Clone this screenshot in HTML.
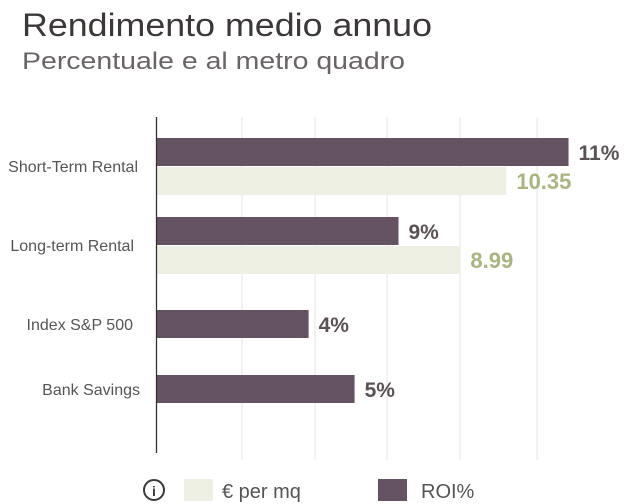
<!DOCTYPE html>
<html><head><meta charset="utf-8"><style>
html,body{margin:0;padding:0;background:#fff;}
svg{display:block;font-family:"Liberation Sans",sans-serif;}
</style></head><body>
<svg id="chart" width="625" height="504" viewBox="0 0 625 504">
<text x="22" y="36" font-size="32" fill="#3d3838" textLength="410" lengthAdjust="spacingAndGlyphs">Rendimento medio annuo</text>
<text x="22" y="69" font-size="24" fill="#6a6565" textLength="383" lengthAdjust="spacingAndGlyphs">Percentuale e al metro quadro</text>
<g id="grid"></g>
<g id="bars"></g>
<line x1="156.5" y1="117" x2="156.5" y2="453" stroke="#333" stroke-width="1.3"/>
<g>
  <g>
    <circle cx="154" cy="490" r="10" fill="none" stroke="#3d3838" stroke-width="2"/>
    <text x="154" y="496" font-size="14" font-weight="bold" text-anchor="middle" fill="#3d3838">i</text>
  </g>
  <rect x="184" y="479" width="29" height="22" fill="#eef0e3"/>
  <text x="222" y="498" font-size="20" fill="#555">€ per mq</text>
  <rect x="378" y="479" width="29" height="22" fill="#655262"/>
  <text x="421" y="498" font-size="20" fill="#555">ROI%</text>
</g>
</svg>
<script>
const categories = ["Short-Term Rental", "Long-term Rental", "Index S&P 500", "Bank Savings"];
const roiValues = [12.19, 7.16, 4.5, 5.86];
const roiLabels = ["11%", "9%", "4%", "5%"];
const euroValues = [10.35, 8.99, null, null];
const euroLabels = ["10.35", "8.99", "", ""];
const gridTicks = [2.53, 4.69, 6.82, 8.98, 11.26];

const NS = "http://www.w3.org/2000/svg";
const x0 = 156.5, pxPerUnit = 33.8;
function xScale(v){ return x0 + v * pxPerUnit; }
const roiY = [138, 217, 310, 375];
const labelRight = [138, 134, 133, 140];
const barH = 28;
function mk(tag, attrs, parent){ const e=document.createElementNS(NS,tag); for(const k in attrs) e.setAttribute(k,attrs[k]); parent.appendChild(e); return e; }
const grid = document.getElementById('grid');
const bars = document.getElementById('bars');
gridTicks.forEach((t)=>{
  const l = mk('line',{x1:xScale(t),x2:xScale(t),y1:117,y2:460,stroke:'#e6e6e6','stroke-width':1},grid);
  
  
});
categories.forEach((c,i)=>{
  const hasEuro = euroValues[i] !== null;
  const y = roiY[i];
  const labY = hasEuro ? y + barH + 6 : y + barH/2 + 6;
  const t = mk('text',{x:labelRight[i],y:labY,'font-size':16,fill:'#555','text-anchor':'end'},bars);
  t.textContent = c;
  
  
  const r = mk('rect',{x:x0,y:y,width:xScale(roiValues[i])-x0,height:barH,fill:'#655262'},bars);
  
  
  const rl = mk('text',{x:xScale(roiValues[i])+10,y:y+barH/2+8,'font-size':21,'font-weight':'bold',fill:'#5a5256'},bars);
  rl.textContent = roiLabels[i];
  
  
  if(hasEuro){
    const ey = y + barH + 1;
    const e = mk('rect',{x:x0,y:ey,width:xScale(euroValues[i])-x0,height:barH,fill:'#eef0e3'},bars);
    
    
    const el = mk('text',{x:xScale(euroValues[i])+10,y:ey+barH/2+8,'font-size':22,'font-weight':'bold',fill:'#a8b57f'},bars);
    el.textContent = euroLabels[i];
    
    
  }
});
</script>
</body></html>
